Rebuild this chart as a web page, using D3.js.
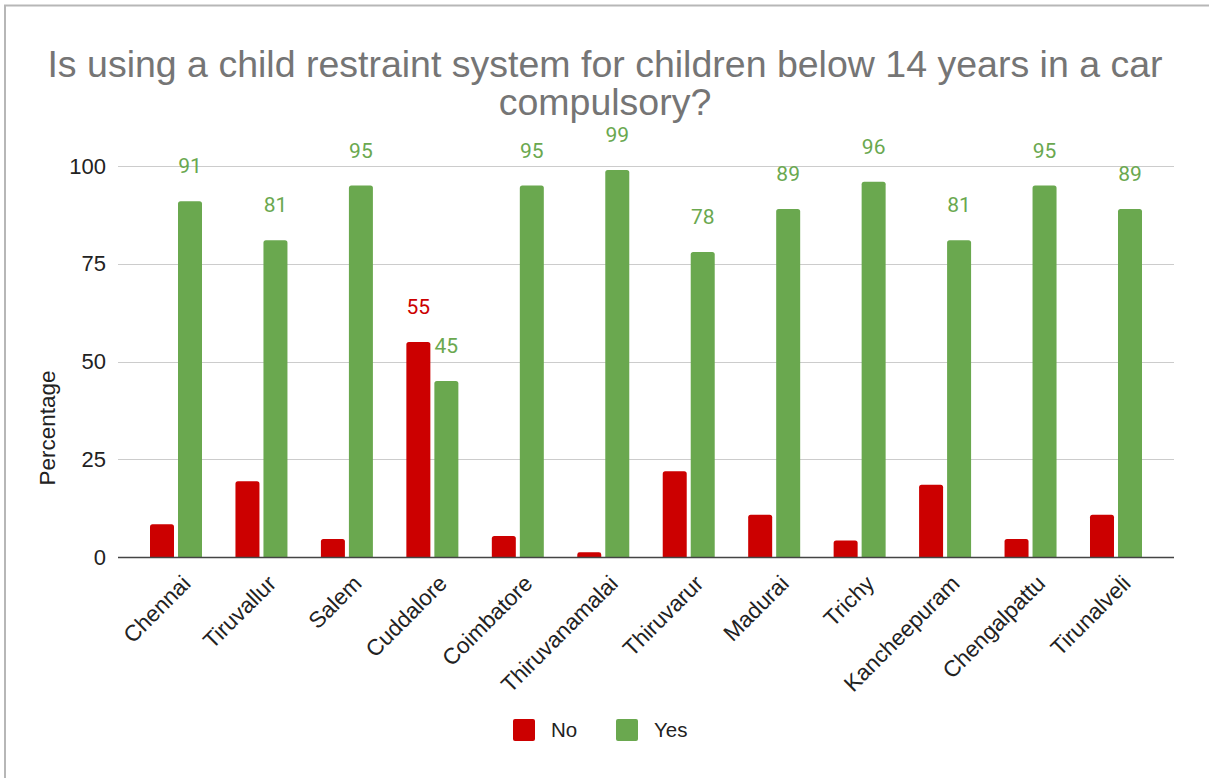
<!DOCTYPE html>
<html>
<head>
<meta charset="utf-8">
<script src="https://cdn.jsdelivr.net/npm/d3@7"></script>
<style>
  html, body { margin: 0; padding: 0; background: #fff; }
  svg { display: block; }
</style>
</head>
<body>
<svg id="chart" width="1209" height="778"></svg>
<script>
// Survey districts
const districts = ["Chennai", "Tiruvallur", "Salem", "Cuddalore", "Coimbatore", "Thiruvanamalai",
  "Thiruvarur", "Madurai", "Trichy", "Kancheepuram", "Chengalpattu", "Tirunalveli"];
// Share of respondents answering "No" (%)
const noValues = [8.4, 19.4, 4.6, 55, 5.4, 1.2, 21.9, 10.8, 4.2, 18.5, 4.6, 10.8];
// Share of respondents answering "Yes" (%)
const yesValues = [91, 81, 95, 45, 95, 99, 78, 89, 96, 81, 95, 89];
// Which "No" values carry a printed label
const noLabelShown = [false, false, false, true, false, false, false, false, false, false, false, false];
const seriesNames = ["No", "Yes"];
const seriesColors = ["#cc0000", "#6aa84f"];
const yTicks = [0, 25, 50, 75, 100];
const titleLines = ["Is using a child restraint system for children below 14 years in a car", "compulsory?"];
const yTitle = "Percentage";

const rows = districts.map((d, i) => ({
  district: d,
  values: [
    { key: "No", value: noValues[i], showLabel: noLabelShown[i] },
    { key: "Yes", value: yesValues[i], showLabel: true }
  ]
}));

const svg = d3.select("#chart");
const plot = { left: 118, right: 1174, top: 166, bottom: 557 };
const axisFont = "'Liberation Sans', Arial, sans-serif";

// Frame edge
svg.append("path")
  .attr("d", "M5,778 L5,5.5 L1209,5.5")
  .attr("fill", "none")
  .attr("stroke", "#b7b7b7")
  .attr("stroke-width", 2);

// Title
svg.append("g")
  .selectAll("text")
  .data(titleLines)
  .join("text")
  .attr("x", 605)
  .attr("y", (d, i) => 77 + i * 38)
  .attr("text-anchor", "middle")
  .attr("font-family", axisFont)
  .attr("font-size", 37.5)
  .attr("fill", "#757575")
  .text(d => d);

const x0 = d3.scaleBand()
  .domain(districts)
  .range([plot.left, plot.right])
  .paddingInner(0.3915)
  .paddingOuter(0.3745);

const x1 = d3.scaleBand()
  .domain(seriesNames)
  .range([0, x0.bandwidth()])
  .paddingInner(0.143);

const y = d3.scaleLinear().domain([0, 100]).range([plot.bottom, plot.top]);
const color = d3.scaleOrdinal().domain(seriesNames).range(seriesColors);

// Gridlines
svg.append("g")
  .selectAll("line")
  .data(yTicks.filter(t => t !== 0))
  .join("line")
  .attr("x1", plot.left)
  .attr("x2", plot.right)
  .attr("y1", d => Math.round(y(d)) + 0.5)
  .attr("y2", d => Math.round(y(d)) + 0.5)
  .attr("stroke", "#cccccc")
  .attr("stroke-width", 1);

// Y axis labels
const yAxis = d3.axisLeft(y).tickValues(yTicks).tickSize(0).tickPadding(0);
const yAxisG = svg.append("g")
  .attr("transform", `translate(${106},0)`)
  .call(yAxis);
yAxisG.select(".domain").remove();
yAxisG.selectAll("text")
  .attr("font-family", axisFont)
  .attr("font-size", 22)
  .attr("fill", "#222");

svg.append("text")
  .attr("transform", "translate(55,428) rotate(-90)")
  .attr("text-anchor", "middle")
  .attr("font-family", axisFont)
  .attr("font-size", 22.5)
  .attr("fill", "#222")
  .text(yTitle);

// Bars with slightly rounded tops
function barPath(x, w, yTop, yBase, r) {
  const h = yBase - yTop;
  const rr = Math.min(r, h / 2, w / 2);
  return `M${x},${yBase} L${x},${yTop + rr} Q${x},${yTop} ${x + rr},${yTop} ` +
    `L${x + w - rr},${yTop} Q${x + w},${yTop} ${x + w},${yTop + rr} L${x + w},${yBase} Z`;
}

const groups = svg.append("g")
  .selectAll("g")
  .data(rows)
  .join("g")
  .attr("transform", d => `translate(${x0(d.district)},0)`);

groups.selectAll("path")
  .data(d => d.values)
  .join("path")
  .attr("d", d => barPath(x1(d.key), x1.bandwidth(), y(d.value), y(0), 2.5))
  .attr("fill", d => color(d.key));

groups.selectAll("text")
  .data(d => d.values.filter(v => v.showLabel))
  .join("text")
  .attr("x", d => x1(d.key) + x1.bandwidth() / 2)
  .attr("y", d => y(d.value) - 28)
  .attr("text-anchor", "middle")
  .attr("font-family", "Roboto, sans-serif")
  .attr("font-size", 21)
  .attr("fill", d => color(d.key))
  .text(d => d3.format(".0f")(d.value));

// Baseline
svg.append("line")
  .attr("x1", plot.left)
  .attr("x2", plot.right)
  .attr("y1", y(0) + 0.5)
  .attr("y2", y(0) + 0.5)
  .attr("stroke", "#444")
  .attr("stroke-width", 1.6);

// Category labels
const xAxisG = svg.append("g")
  .attr("transform", `translate(0,${plot.bottom})`)
  .call(d3.axisBottom(x0).tickSize(0).tickPadding(0));
xAxisG.select(".domain").remove();
xAxisG.selectAll("text")
  .attr("font-family", axisFont)
  .attr("font-size", 22.5)
  .attr("fill", "#222")
  .attr("text-anchor", "end")
  .attr("dy", 0)
  .attr("y", 0)
  .attr("transform", "translate(16,28) rotate(-45)");

// Legend
const legend = svg.append("g")
  .selectAll("g")
  .data(seriesNames)
  .join("g")
  .attr("transform", (d, i) => `translate(${513 + i * 103},719)`);
legend.append("rect")
  .attr("width", 22)
  .attr("height", 22)
  .attr("rx", 2)
  .attr("fill", d => color(d));
legend.append("text")
  .attr("x", 38)
  .attr("y", 11)
  .attr("dy", "0.35em")
  .attr("font-family", axisFont)
  .attr("font-size", 20.5)
  .attr("fill", "#222")
  .text(d => d);
</script>
</body>
</html>
